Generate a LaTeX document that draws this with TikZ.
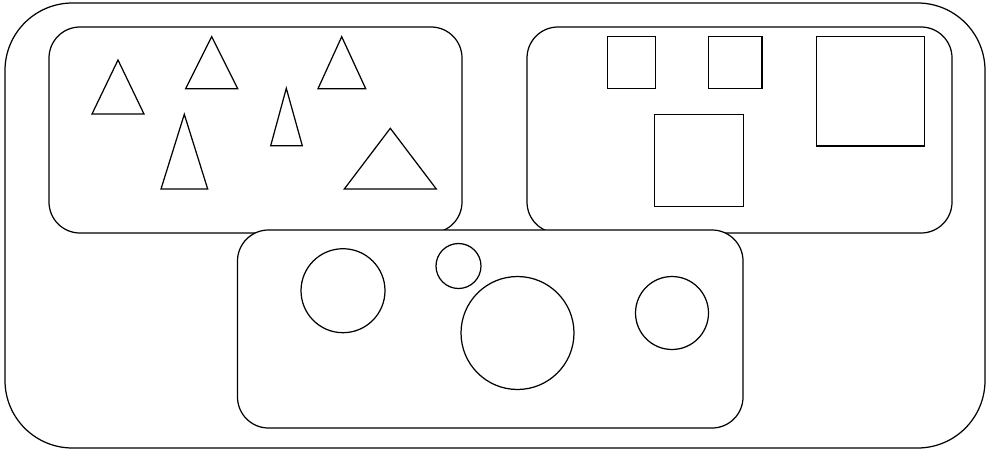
\documentclass[tikz,border=0pt]{standalone}
\usetikzlibrary{positioning}
\tikzset{
  Outline/.style   = {draw, line width=0.7pt},
  Container/.style = {Outline, rounded corners=1.35cm},
  Group/.style     = {Outline, rounded corners=0.62cm},
  Shape/.style     = {Outline},
}
\begin{document}
\begin{tikzpicture}[x=0.02cm, y=-0.02cm]
  \useasboundingbox (0,0) rectangle (986,450);
  % outer frame
  \draw[Container] (5,3) rectangle (985,448);
  % triangle group
  \draw[Group] (49,27) rectangle (462,233);
  \draw[Shape] (92,114)    -- (118,60)    -- (144,114)    -- cycle;
  \draw[Shape] (185.7,88.7) -- (211.7,36.7) -- (237.7,88.7) -- cycle;
  \draw[Shape] (318,88.7)  -- (341.7,36.7) -- (365.7,88.7) -- cycle;
  \draw[Shape] (270.7,145.7) -- (286.3,88.3) -- (302.3,145.7) -- cycle;
  \draw[Shape] (161,189)   -- (184.3,114.3) -- (207.7,189) -- cycle;
  \draw[Shape] (344.3,189) -- (390.3,128.3) -- (436.3,189) -- cycle;
  % square group
  \draw[Group] (527,27) rectangle (952,233);
  \draw[Shape] (607.3,36.7) rectangle (655.3,88.7);
  \draw[Shape] (708.7,36.7) rectangle (762,88.7);
  \draw[Shape] (816.7,36.7) rectangle (924.7,146);
  \draw[Shape] (654.3,114.3) rectangle (743.7,206.3);
  % circle group
  \draw[Group, fill=white] (237.5,230) rectangle (743,428);
  \draw[Shape] (343,290.7) circle [radius=0.84cm];
  \draw[Shape] (458.5,266) circle [radius=0.45cm];
  \draw[Shape] (517.5,333) circle [radius=1.13cm];
  \draw[Shape] (672,313) circle [radius=0.73cm];
\end{tikzpicture}
\end{document}
